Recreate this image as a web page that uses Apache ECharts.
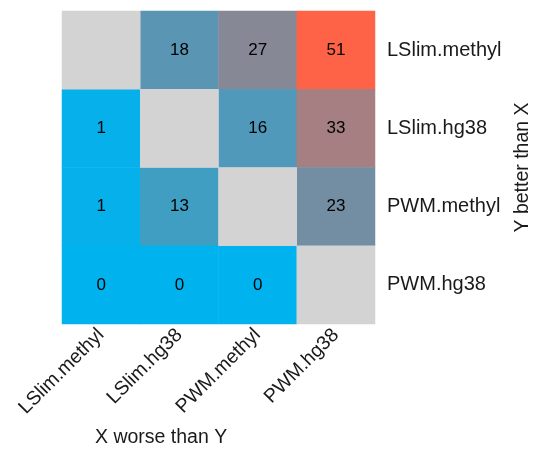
<!DOCTYPE html>
<html>
<head>
<meta charset="utf-8">
<script src="https://cdn.jsdelivr.net/npm/echarts@6/dist/echarts.min.js"></script>
<style>html,body{margin:0;padding:0;background:#fff;}#c{width:535px;height:451px;}</style>
</head>
<body>
<div id="c"></div>
<script>
const categories = ['LSlim.methyl', 'LSlim.hg38', 'PWM.methyl', 'PWM.hg38'];
// rows: Y model (top to bottom), columns: X model (left to right); null = diagonal
const rowLSlimMethyl = [null, 18, 27, 51];
const rowLSlimHg38   = [1, null, 16, 33];
const rowPWMMethyl   = [1, 13, null, 23];
const rowPWMHg38     = [0, 0, 0, null];
const rows = [rowLSlimMethyl, rowLSlimHg38, rowPWMMethyl, rowPWMHg38];
const xTitle = 'X worse than Y';
const yTitle = 'Y better than X';

const valData = [], naData = [];
rows.forEach((r, yi) => r.forEach((v, xi) => {
  if (v === null) naData.push([xi, yi, 0]);
  else valData.push([xi, yi, v]);
}));

const font = 'Liberation Sans, Arial, sans-serif';
const chart = echarts.init(document.getElementById('c'), null, {renderer: 'canvas'});
chart.setOption({
  animation: false,
  grid: {left: 62, right: 160, top: 11, bottom: 127, outerBoundsMode: 'none', containLabel: false},
  title: {text: xTitle, left: 95, top: 428, padding: 0, textStyle: {fontFamily: font, fontSize: 19.5, fontWeight: 'normal', color: '#1a1a1a'}},
  xAxis: {
    type: 'category', data: categories,
    axisLine: {show: false}, axisTick: {show: false}, splitLine: {show: false},
    axisLabel: {rotate: 45, margin: 8, fontFamily: font, fontSize: 19.5, color: '#1a1a1a', interval: 0}
  },
  yAxis: {
    type: 'category', data: categories, inverse: true, position: 'right',
    axisLine: {show: false}, axisTick: {show: false}, splitLine: {show: false},
    axisLabel: {margin: 12, fontFamily: font, fontSize: 20, color: '#1a1a1a', interval: 0},
    name: yTitle, nameLocation: 'middle', nameRotate: 90, nameGap: 137,
    nameTextStyle: {fontFamily: font, fontSize: 19.5, color: '#1a1a1a'}
  },
  visualMap: {
    show: false, type: 'continuous', min: 0, max: 51, seriesIndex: 0, dimension: 2,
    inRange: {color: ['#00B2EE', '#FF6347']}
  },
  series: [
    {
      type: 'heatmap', data: valData,
      label: {show: true, fontFamily: font, fontSize: 17, color: '#000'},
      itemStyle: {borderWidth: 0}
    },
    {
      type: 'heatmap', data: naData,
      itemStyle: {color: '#D3D3D3'},
      label: {show: false}
    }
  ]
});
</script>
</body>
</html>
